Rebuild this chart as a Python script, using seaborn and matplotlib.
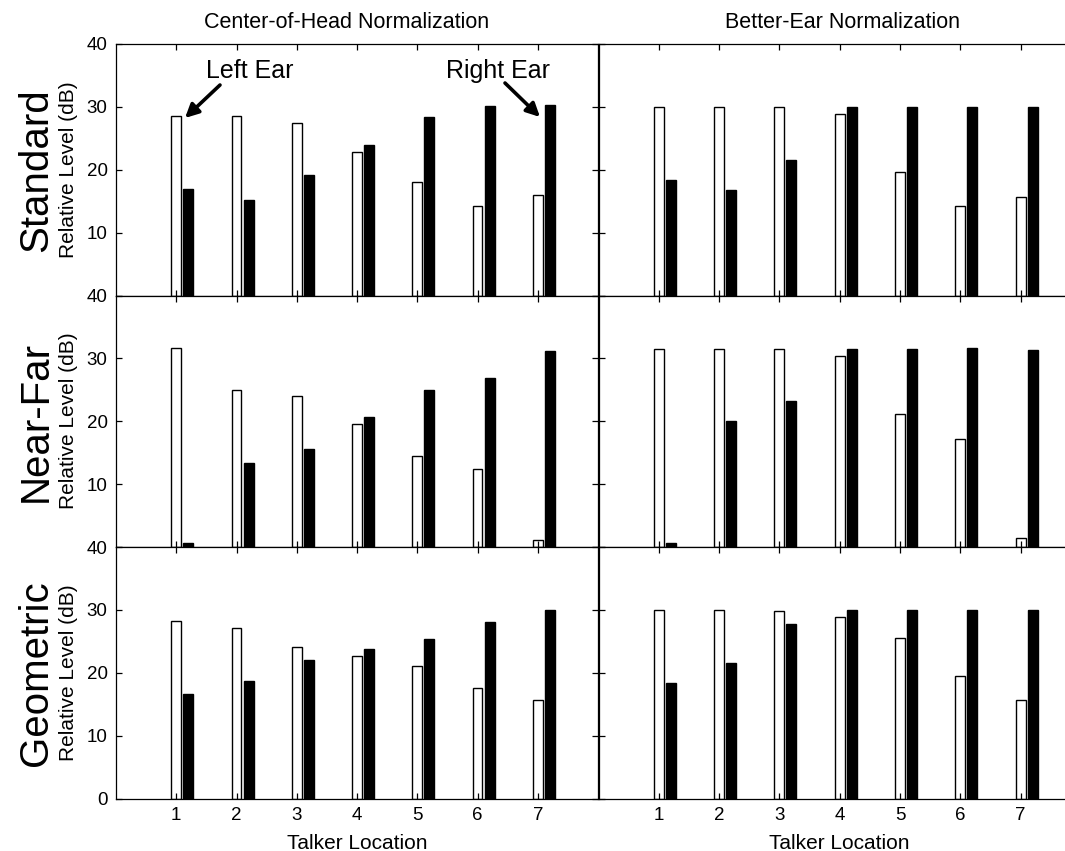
import matplotlib
matplotlib.use("Agg")
import matplotlib.pyplot as plt
import seaborn as sns
import pandas as pd

# ---------------- data ----------------
locations = [1, 2, 3, 4, 5, 6, 7]
ears = ["Left Ear", "Right Ear"]
rows = ["Standard", "Near-Far", "Geometric"]
cols = ["Center-of-Head Normalization", "Better-Ear Normalization"]

coh_standard_left = [28.6, 28.6, 27.4, 22.9, 18.0, 14.2, 16.0]
coh_standard_right = [16.9, 15.2, 19.1, 24.0, 28.4, 30.1, 30.3]
be_standard_left = [30.0, 30.0, 30.0, 28.8, 19.6, 14.2, 15.7]
be_standard_right = [18.4, 16.7, 21.6, 30.0, 30.0, 30.0, 30.0]

coh_nearfar_left = [31.6, 25.0, 24.0, 19.5, 14.4, 12.4, 1.1]
coh_nearfar_right = [0.7, 13.4, 15.6, 20.6, 25.0, 26.9, 31.1]
be_nearfar_left = [31.5, 31.5, 31.5, 30.4, 21.2, 17.2, 1.5]
be_nearfar_right = [0.6, 20.0, 23.2, 31.5, 31.5, 31.6, 31.4]

coh_geo_left = [28.3, 27.1, 24.1, 22.6, 21.0, 17.6, 15.6]
coh_geo_right = [16.6, 18.7, 22.0, 23.7, 25.4, 28.1, 30.0]
be_geo_left = [30.0, 30.0, 29.8, 28.8, 25.5, 19.5, 15.6]
be_geo_right = [18.3, 21.5, 27.7, 30.0, 30.0, 30.0, 30.0]

y_ticks = [0, 10, 20, 30, 40]

panel_data = {
    ("Standard", 0): (coh_standard_left, coh_standard_right),
    ("Standard", 1): (be_standard_left, be_standard_right),
    ("Near-Far", 0): (coh_nearfar_left, coh_nearfar_right),
    ("Near-Far", 1): (be_nearfar_left, be_nearfar_right),
    ("Geometric", 0): (coh_geo_left, coh_geo_right),
    ("Geometric", 1): (be_geo_left, be_geo_right),
}

# ---------------- style ----------------
sns.set_theme(style="ticks")
plt.rcParams["font.family"] = ["Liberation Sans", "DejaVu Sans"]
plt.rcParams["text.color"] = "black"
plt.rcParams["axes.labelcolor"] = "black"
plt.rcParams["xtick.color"] = "black"
plt.rcParams["ytick.color"] = "black"
plt.rcParams["axes.linewidth"] = 0.9
plt.rcParams["axes.edgecolor"] = "black"

W, H = 1065, 851
fig = plt.figure(figsize=(W / 100, H / 100), dpi=100)
fig.patch.set_facecolor("white")

row_tops = [44, 295.5, 547]
panel_h = 251.5
col_lefts = [116, 598.5]
col_widths = [482, 482.4]
dodge_shift = 0.1  # so that the left-ear bar sits on the tick


def fx(px):
    return px / W


def fy(py):
    return (H - py) / H


axes = {}
for c in range(2):
    for r, row in enumerate(rows):
        ax = fig.add_axes([fx(col_lefts[c]), fy(row_tops[r] + panel_h),
                           col_widths[c] / W, panel_h / H])
        ax.set_facecolor("white")
        left_vals, right_vals = panel_data[(row, c)]
        df = pd.DataFrame({
            "x": [l + dodge_shift for l in locations] * 2,
            "level": list(left_vals) + list(right_vals),
            "ear": [ears[0]] * len(locations) + [ears[1]] * len(locations),
        })
        sns.barplot(data=df, x="x", y="level", hue="ear", hue_order=ears,
                    palette=["white", "black"], native_scale=True, orient="x",
                    dodge=True, width=0.4, gap=0.175, edgecolor="black",
                    linewidth=1.0, errorbar=None, legend=False, ax=ax)
        ax.set_xlim(0, 8)
        ax.set_ylim(0, 40)
        ax.set_xticks(locations)
        ax.set_yticks(y_ticks)
        ax.set_xlabel("")
        ax.set_ylabel("")
        for s in ax.spines.values():
            s.set_visible(True)
            s.set_color("black")
            s.set_linewidth(0.9)
        if r == 2:
            ax.set_xticklabels([str(l) for l in locations])
        else:
            ax.set_xticklabels([])
        if c == 0:
            if r == 2:
                ax.set_yticklabels([str(t) for t in y_ticks])
            else:
                ax.set_yticklabels([""] + [str(t) for t in y_ticks[1:]])
        else:
            ax.set_yticklabels([])
        ax.tick_params(axis="both", which="major", direction="in",
                       bottom=True, top=True, left=True, right=True,
                       length=4.5, width=0.9, color="black",
                       labelsize=13.5, pad=6, labelcolor="black")
        ax.set_axisbelow(False)
        axes[(r, c)] = ax

# ---------------- texts ----------------
fig.text(fx(347), fy(28), cols[0], ha="center", va="baseline", fontsize=15.5)
fig.text(fx(842.5), fy(28), cols[1], ha="center", va="baseline", fontsize=15.5)

fig.text(fx(357), fy(849), "Talker Location", ha="center", va="baseline", fontsize=15)
fig.text(fx(839.7), fy(849), "Talker Location", ha="center", va="baseline", fontsize=15)

row_centers = [170, 421, 673]
for r, row in enumerate(rows):
    fig.text(fx(36), fy(row_centers[r]), row, rotation=90, ha="center",
             va="center", fontsize=29)
    fig.text(fx(69), fy(row_centers[r]), "Relative Level (dB)", rotation=90,
             ha="center", va="center", fontsize=15)

# ---------------- annotations ----------------
ax0 = axes[(0, 0)]
fig.text(fx(250), fy(78), "Left Ear", ha="center", va="baseline", fontsize=18)
fig.text(fx(498.5), fy(78), "Right Ear", ha="center", va="baseline", fontsize=18)

arrow_kw = dict(arrowstyle="-|>", color="black", lw=2.6, mutation_scale=20,
                shrinkA=0, shrinkB=0)
ax0.annotate("", xy=(fx(185), fy(118)), xytext=(fx(220), fy(85)),
             xycoords="figure fraction", textcoords="figure fraction",
             arrowprops=arrow_kw)
ax0.annotate("", xy=(fx(540), fy(117)), xytext=(fx(505), fy(83)),
             xycoords="figure fraction", textcoords="figure fraction",
             arrowprops=arrow_kw)

fig.savefig("out.png", dpi=100, facecolor="white")
